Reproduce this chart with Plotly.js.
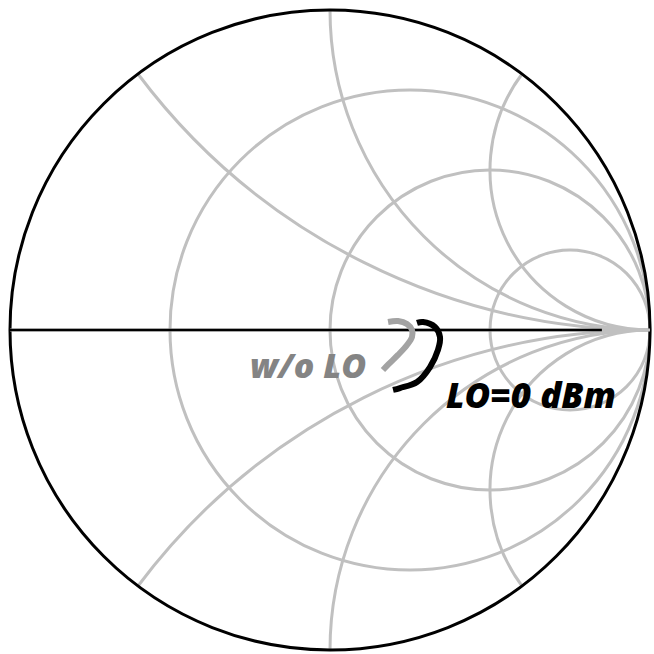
<!DOCTYPE html>
<html>
<head>
<meta charset="utf-8">
<script src="https://cdn.plot.ly/plotly-3.0.1.min.js"></script>
<style>
  html, body { margin: 0; padding: 0; background: #ffffff; }
  #chart { width: 654px; height: 654px; }
</style>
</head>
<body>
<div id="chart"></div>
<script>
// Normalized impedance (z = r + jx) of the input match, without and with LO drive
const woLoReal = [1.441, 1.537, 1.632, 1.689, 1.687, 1.624, 1.515, 1.410, 1.344];
const woLoImag = [0.075, 0.090, 0.065, 0.000, -0.079, -0.162, -0.249, -0.313, -0.351];

const lo0Real = [1.744, 1.816, 1.976, 2.044, 1.992, 1.829, 1.617, 1.429, 1.362];
const lo0Imag = [0.083, 0.099, 0.042, -0.102, -0.282, -0.476, -0.584, -0.564, -0.551];

// Real-axis segment drawn in black
const axisReal = [0, 12.3];
const axisImag = [0, 0];

// Grid values: constant-resistance circles and constant-reactance arcs
const resistanceTicks = [1 / 3, 1, 3];
const reactanceTicks = [-2, -1, -0.5, 0.5, 1, 2];

const labelWoLo = 'w/o LO';
const labelLo0 = 'LO=0 dBm';

const gridGray = '#c0c0c0';

const traces = [
  {
    type: 'scattersmith', real: axisReal, imag: axisImag, mode: 'lines',
    line: { color: '#000000', width: 2.5 }, hoverinfo: 'skip', showlegend: false
  },
  {
    type: 'scattersmith', real: woLoReal, imag: woLoImag, mode: 'lines',
    line: { color: '#a3a3a3', width: 6, shape: 'spline' }, name: labelWoLo, showlegend: false
  },
  {
    type: 'scattersmith', real: lo0Real, imag: lo0Imag, mode: 'lines',
    line: { color: '#000000', width: 6, shape: 'spline' }, name: labelLo0, showlegend: false
  }
];

const layout = {
  width: 654,
  height: 654,
  margin: { l: 10, r: 4, t: 10, b: 4 },
  paper_bgcolor: '#ffffff',
  showlegend: false,
  smith: {
    domain: { x: [0, 1], y: [0, 1] },
    bgcolor: '#ffffff',
    realaxis: {
      tickvals: resistanceTicks,
      showticklabels: false,
      ticks: '',
      layer: 'below traces',
      showgrid: true,
      gridcolor: gridGray,
      gridwidth: 3,
      showline: true,
      linecolor: gridGray,
      linewidth: 3
    },
    imaginaryaxis: {
      tickvals: reactanceTicks,
      showticklabels: false,
      ticks: '',
      layer: 'below traces',
      showgrid: true,
      gridcolor: gridGray,
      gridwidth: 3,
      showline: true,
      linecolor: '#000000',
      linewidth: 3
    }
  },
  annotations: [
    {
      text: '<i>' + labelWoLo + '</i>',
      xref: 'paper', yref: 'paper', x: 0.372, y: 0.445,
      xanchor: 'left', yanchor: 'middle', showarrow: false,
      font: { family: 'Open Sans', size: 34, weight: 800, color: '#848484' }
    },
    {
      text: '<i>' + labelLo0 + '</i>',
      xref: 'paper', yref: 'paper', x: 0.678, y: 0.40,
      xanchor: 'left', yanchor: 'middle', showarrow: false,
      font: { family: 'Open Sans', size: 35, weight: 800, color: '#000000' }
    }
  ]
};

Plotly.newPlot('chart', traces, layout, { displayModeBar: false, staticPlot: true });
</script>
</body>
</html>
